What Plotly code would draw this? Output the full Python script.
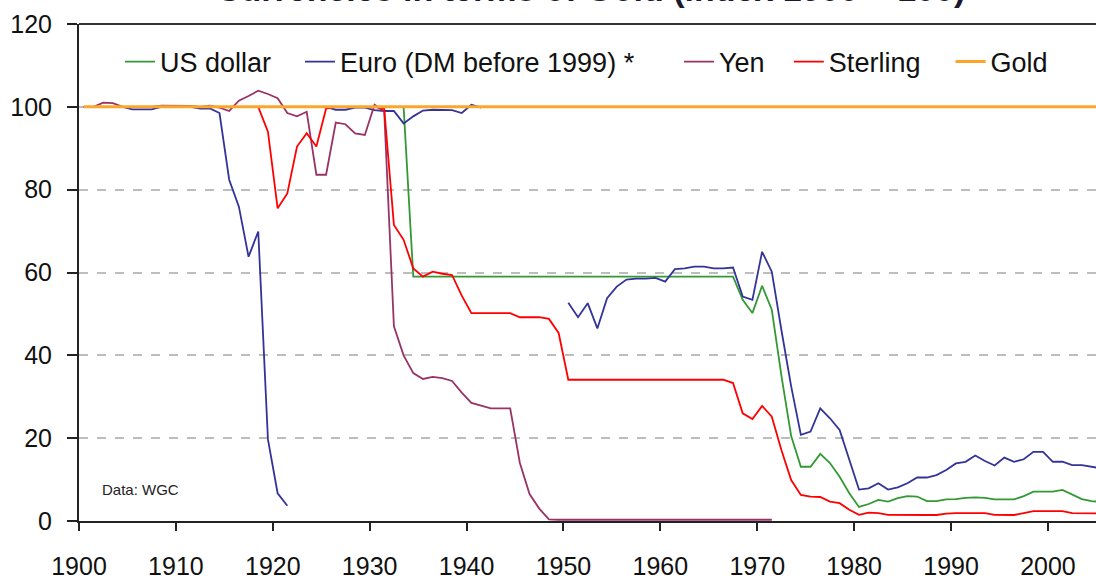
import plotly.graph_objects as go

# ---------------- data (index, 1900 = 100) ----------------
years = list(range(1900, 2006))

us_dollar = [
    100, 100, 100, 100, 100, 100, 100, 100, 100, 100,          # 1900-1909
    100, 100, 100, 100, 100, 100, 100, 100, 100, 100,          # 1910-1919
    100, 100, 100, 100, 100, 100, 100, 100, 100, 100,          # 1920-1929
    100, 100, 100, 100, 59, 59, 59, 59, 59, 59,                # 1930-1939
    59, 59, 59, 59, 59, 59, 59, 59, 59, 59,                    # 1940-1949
    59, 59, 59, 59, 59, 59, 59, 59, 59, 59,                    # 1950-1959
    59, 59, 59, 59, 59, 59, 59, 59, 53.4, 50.2,                # 1960-1969
    56.8, 51.0, 35.0, 20.5, 13.1, 13.1, 16.2, 14.0, 10.7, 6.7, # 1970-1979
    3.4, 4.1, 5.1, 4.7, 5.5, 6.0, 5.9, 4.8, 4.8, 5.2,          # 1980-1989
    5.3, 5.6, 5.7, 5.6, 5.2, 5.2, 5.2, 6.0, 7.1, 7.1,          # 1990-1999
    7.1, 7.5, 6.3, 5.3, 4.8, 4.6,                              # 2000-2005
]

euro_dm = [
    100, 100, 100, 100, 100, 99.4, 99.4, 99.4, 100, 100,        # 1900-1909
    100, 100, 99.6, 99.6, 98.5, 82.4, 75.9, 63.8, 69.9, 19.7,   # 1910-1919
    6.7, 3.7, None, None, 100, 100, 99.3, 99.3, 99.8, 99.8,     # 1920-1929
    99.2, 99.0, 99.0, 96.0, 97.7, 99.1, 99.3, 99.3, 99.2, 98.5, # 1930-1939
    100.5, 99.8, None, None, None, None, None, None, None, None,# 1940-1949
    52.7, 49.2, 52.6, 46.5, 53.8, 56.6, 58.3, 58.5, 58.5, 58.7, # 1950-1959
    57.8, 60.8, 61.0, 61.4, 61.4, 61.0, 61.0, 61.2, 54.2, 53.4, # 1960-1969
    65.0, 60.2, 46.0, 32.5, 20.8, 21.6, 27.2, 24.8, 22.0, 14.7, # 1970-1979
    7.6, 7.9, 9.1, 7.6, 8.1, 9.1, 10.5, 10.5, 11.1, 12.3,       # 1980-1989
    13.9, 14.3, 15.8, 14.5, 13.4, 15.3, 14.3, 14.9, 16.7, 16.7, # 1990-1999
    14.3, 14.3, 13.5, 13.5, 13.1, 12.7,                         # 2000-2005
]

yen = [
    100, 100, 101, 100.9, 100, 100, 100, 100, 100.3, 100.3,     # 1900-1909
    100.2, 100.2, 100, 100.3, 99.8, 99.0, 101.5, 102.6, 103.9, 103.1,  # 1910-1919
    102.1, 98.5, 97.7, 98.8, 83.6, 83.6, 96.2, 95.8, 93.6, 93.2,       # 1920-1929
    100.5, 98.9, 47.0, 40.0, 35.7, 34.3, 34.8, 34.5, 33.8, 31.0,       # 1930-1939
    28.5, 27.8, 27.2, 27.2, 27.2, 14.0, 6.5, 3.0, 0.4, 0.3,            # 1940-1949
    0.3, 0.3, 0.3, 0.3, 0.3, 0.3, 0.3, 0.3, 0.3, 0.3,                  # 1950-1959
    0.3, 0.3, 0.3, 0.3, 0.3, 0.3, 0.3, 0.3, 0.3, 0.3,                  # 1960-1969
    0.3, 0.3, None, None, None, None, None, None, None, None,          # 1970-1979
    None, None, None, None, None, None, None, None, None, None,        # 1980-1989
    None, None, None, None, None, None, None, None, None, None,        # 1990-1999
    None, None, None, None, None, None,                                # 2000-2005
]

sterling = [
    100, 100, 100, 100, 100, 100, 100, 100, 100, 100,          # 1900-1909
    100, 100, 100, 100, 100, 100, 100, 100, 100, 94.0,         # 1910-1919
    75.5, 79.1, 90.4, 93.6, 90.4, 99.6, 100, 100, 100, 100,    # 1920-1929
    100, 99.5, 71.5, 67.9, 61.0, 59.0, 60.2, 59.7, 59.4, 54.4, # 1930-1939
    50.2, 50.2, 50.2, 50.2, 50.2, 49.2, 49.2, 49.2, 48.8, 45.4,# 1940-1949
    34.1, 34.1, 34.1, 34.1, 34.1, 34.1, 34.1, 34.1, 34.1, 34.1,# 1950-1959
    34.1, 34.1, 34.1, 34.1, 34.1, 34.1, 34.1, 33.3, 26.0, 24.6,# 1960-1969
    27.8, 25.2, 17.1, 9.9, 6.3, 5.9, 5.8, 4.7, 4.3, 2.7,       # 1970-1979
    1.5, 2.0, 1.9, 1.5, 1.45, 1.45, 1.45, 1.45, 1.45, 1.8,     # 1980-1989
    1.9, 1.9, 1.9, 1.9, 1.5, 1.45, 1.45, 1.9, 2.4, 2.4,        # 1990-1999
    2.4, 2.4, 1.9, 1.9, 1.9, 1.8,                              # 2000-2005
]

gold = [
    100, 100, 100, 100, 100, 100, 100, 100, 100, 100,
    100, 100, 100, 100, 100, 100, 100, 100, 100, 100,
    100, 100, 100, 100, 100, 100, 100, 100, 100, 100,
    100, 100, 100, 100, 100, 100, 100, 100, 100, 100,
    100, 100, 100, 100, 100, 100, 100, 100, 100, 100,
    100, 100, 100, 100, 100, 100, 100, 100, 100, 100,
    100, 100, 100, 100, 100, 100, 100, 100, 100, 100,
    100, 100, 100, 100, 100, 100, 100, 100, 100, 100,
    100, 100, 100, 100, 100, 100, 100, 100, 100, 100,
    100, 100, 100, 100, 100, 100, 100, 100, 100, 100,
    100, 100, 100, 100, 100, 100,
]

x_tick_labels = ["1900", "1910", "1920", "1930", "1940", "1950",
                 "1960", "1970", "1980", "1990", "2000"]
y_tick_values = [0, 20, 40, 60, 80, 100, 120]

series_names = ["US dollar", "Euro (DM before 1999) *", "Yen", "Sterling", "Gold"]
series_values = [us_dollar, euro_dm, yen, sterling, gold]

# ---------------- styling ----------------
FONT = "Liberation Sans, Arial, Helvetica, sans-serif"
colors = ["#339933", "#333399", "#993366", "#FF0000", "#FBA62A"]
widths = [1.8, 1.8, 1.8, 1.8, 3]
legend_ids = ["legend", "legend2", "legend3", "legend4", "legend5"]
legend_x = [0.0403, 0.2173, 0.590, 0.698, 0.857]

fig = go.Figure()
for name, vals, col, w, lg in zip(series_names, series_values, colors, widths, legend_ids):
    fig.add_trace(go.Scatter(
        x=years, y=vals, mode="lines", name=name,
        line=dict(color=col, width=w), connectgaps=False, legend=lg,
        hoverinfo="x+y+name",
    ))

legend_layout = {}
for lg, lx in zip(legend_ids, legend_x):
    legend_layout[lg] = dict(
        x=lx, y=0.9235, xanchor="left", yanchor="middle",
        orientation="h", bgcolor="rgba(0,0,0,0)", borderwidth=0,
        font=dict(family=FONT, size=27, color="#111111"),
        itemwidth=30,
    )

fig.update_layout(
    width=1096, height=579,
    margin=dict(l=79, r=0, t=24, b=58, pad=0, autoexpand=False),
    paper_bgcolor="white", plot_bgcolor="white",
    font=dict(family=FONT, color="#111111"),
    showlegend=True,
    xaxis=dict(
        range=[1899.5, 2004.46],
        tickmode="array",
        tickvals=[int(t) - 0.5 for t in x_tick_labels],
        ticktext=x_tick_labels,
        showgrid=False, zeroline=False, automargin=False,
        showline=True, linecolor="#222222", linewidth=2,
        ticks="outside", ticklen=8, tickwidth=2, tickcolor="#222222",
        tickfont=dict(family=FONT, size=25, color="#111111"),
        ticklabelstandoff=14,
    ),
    yaxis=dict(
        range=[0, 120], automargin=False,
        tickmode="array", tickvals=y_tick_values,
        ticktext=[str(v) for v in y_tick_values],
        showgrid=True, gridcolor="#BDBDBD", griddash="dash", gridwidth=1.5,
        zeroline=False,
        showline=True, linecolor="#222222", linewidth=2,
        ticks="outside", ticklen=10, tickwidth=2, tickcolor="#222222",
        tickfont=dict(family=FONT, size=25, color="#111111"),
        ticklabelstandoff=10,
    ),
    shapes=[dict(type="line", xref="paper", yref="paper", x0=0, x1=1, y0=1, y1=1,
                 line=dict(color="#333333", width=2))],
    annotations=[
        dict(text="Data: WGC", xref="paper", yref="paper", x=0.0206, y=0.064,
             xanchor="left", yanchor="middle", showarrow=False,
             font=dict(family=FONT, size=15, color="#222222")),
        dict(text="<b>Currencies in terms of Gold (index 1900 = 100)</b>",
             xref="paper", yref="paper", x=0.5034, y=1.029,
             xanchor="center", yanchor="bottom", showarrow=False,
             font=dict(family=FONT, size=34, color="#1a1a2e")),
    ],
    **legend_layout,
)

fig.write_html("out.html", config={"displayModeBar": False},
               post_script="document.body.style.margin='0';")
